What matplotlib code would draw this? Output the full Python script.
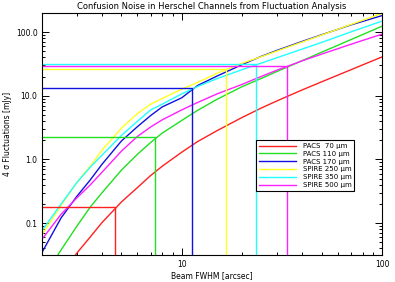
import numpy as np
import matplotlib
matplotlib.use("Agg")
import matplotlib.pyplot as plt
from matplotlib.ticker import FixedLocator, LogLocator, NullFormatter

# ---- data ----
beam = [2, 2.5, 3, 3.5, 4, 5, 6, 7, 8, 10, 12, 15, 20, 25, 30, 40, 50, 70, 100]

pacs70   = [0.006, 0.016, 0.034, 0.061, 0.102, 0.215, 0.36, 0.56, 0.785, 1.30, 1.91, 2.83, 4.56, 6.44, 8.36, 12.4, 16.6, 25.7, 40.8]
pacs110  = [0.013, 0.038, 0.09, 0.18, 0.30, 0.68, 1.20, 1.85, 2.6, 4.1, 5.9, 8.8, 13.9, 18.8, 24.2, 35.7, 48.4, 76.4, 124]
pacs170  = [0.034, 0.121, 0.265, 0.48, 0.84, 1.95, 3.26, 4.9, 6.7, 9.3, 14.5, 20.4, 30.9, 41.7, 51.9, 71.6, 91, 130, 182]
spire250 = [0.065, 0.19, 0.44, 0.79, 1.40, 3.1, 5.25, 7.4, 9.1, 12.7, 16.2, 22.6, 32.4, 41.2, 50.7, 70, 90, 132, 197]
spire350 = [0.075, 0.20, 0.436, 0.76, 1.17, 2.38, 3.96, 6.0, 7.4, 10.7, 14.0, 18.6, 25.7, 32.7, 39.8, 54.3, 69, 101, 149]
spire500 = [0.055, 0.138, 0.25, 0.40, 0.63, 1.35, 2.29, 3.24, 4.2, 6.0, 7.85, 10.7, 15.1, 20.2, 25.4, 35.5, 45.2, 64.6, 93]

labels = ["PACS  70 μm", "PACS 110 μm", "PACS 170 μm",
          "SPIRE 250 μm", "SPIRE 350 μm", "SPIRE 500 μm"]
channel_fwhm  = [4.65, 7.35, 11.3, 16.7, 23.6, 33.5]
channel_noise = [0.178, 2.25, 13.1, 26.3, 31.2, 29.6]

colors = ["#ff2020", "#20e020", "#1010e0", "#ffff20", "#20ffff", "#ff20ff"]

xlim = (2, 100)
ylim = (0.031, 200)

plt.rcParams['font.family'] = ['DejaVu Sans']
fig = plt.figure(figsize=(3.95, 2.82), dpi=100)
ax = fig.add_axes([0.1056, 0.094, 0.8616, 0.860])

series = [pacs70, pacs110, pacs170, spire250, spire350, spire500]
for vals, col, lab in zip(series, colors, labels):
    ax.plot(beam, vals, color=col, lw=1.0, label=lab)

for fw, nz, col in zip(channel_fwhm, channel_noise, colors):
    ax.plot([xlim[0], fw, fw], [nz, nz, ylim[0]], color=col, lw=1.0)

ax.set_xscale('log')
ax.set_yscale('log')
ax.set_xlim(*xlim)
ax.set_ylim(*ylim)

ax.xaxis.set_major_locator(FixedLocator([10, 100]))
ax.set_xticklabels(["10", "100"])
ax.xaxis.set_minor_locator(LogLocator(base=10, subs=np.arange(2, 10)))
ax.xaxis.set_minor_formatter(NullFormatter())
ax.yaxis.set_major_locator(FixedLocator([0.1, 1, 10, 100]))
ax.set_yticklabels(["0.1", "1.0", "10.0", "100.0"])
ax.yaxis.set_minor_locator(LogLocator(base=10, subs=np.arange(2, 10)))
ax.yaxis.set_minor_formatter(NullFormatter())

ax.tick_params(which='both', direction='in', top=True, right=True, labelsize=5.5,
               width=0.7, colors='black', pad=3)
ax.tick_params(which='major', length=5)
ax.tick_params(which='minor', length=2.5)
for s in ax.spines.values():
    s.set_linewidth(0.8)

ax.set_title("Confusion Noise in Herschel Channels from Fluctuation Analysis", fontsize=6, pad=3)
ax.set_xlabel("Beam FWHM [arcsec]", fontsize=5.5, labelpad=2)
ax.set_ylabel("4 σ Fluctuations [mJy]", fontsize=5.5, labelpad=3)

leg = ax.legend(loc='upper right', bbox_to_anchor=(0.918, 0.475), fontsize=5,
                handlelength=5.4, handletextpad=0.9, labelspacing=0.26,
                borderpad=0.4, borderaxespad=0, fancybox=False, framealpha=1,
                edgecolor='black')
leg.get_frame().set_linewidth(0.8)

fig.savefig("out.png", dpi=100)
